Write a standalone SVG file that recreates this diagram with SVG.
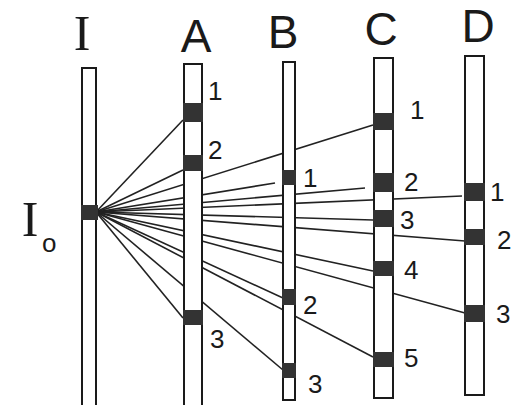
<svg xmlns="http://www.w3.org/2000/svg" width="514" height="405" viewBox="0 0 514 405">
<style>
.col{fill:#fff;stroke:#1a1a1a;stroke-width:2}
.band{fill:#333;stroke:none}
.ln{stroke:#222;stroke-width:1.6;fill:none}
.hd{font-family:"Liberation Sans",Arial,sans-serif;font-size:46px;fill:#1a1a1a;text-anchor:middle}
.hs{font-family:"Liberation Serif","Times New Roman",serif;font-size:50px;fill:#1a1a1a;text-anchor:middle}
.nm{font-family:"Liberation Sans",Arial,sans-serif;font-size:26px;fill:#1a1a1a}
</style>
<rect width="514" height="405" fill="#fff"/>
<g id="connectors">
<line class="ln" x1="96" y1="212" x2="183" y2="120"/>
<line class="ln" x1="96" y1="212" x2="183" y2="170"/>
<line class="ln" x1="96" y1="212" x2="275" y2="183"/>
<line class="ln" x1="96" y1="212" x2="373" y2="125"/>
<line class="ln" x1="96" y1="212" x2="365" y2="188"/>
<line class="ln" x1="96" y1="212" x2="462" y2="196"/>
<line class="ln" x1="96" y1="212" x2="373" y2="220"/>
<line class="ln" x1="96" y1="212" x2="465" y2="241"/>
<line class="ln" x1="96" y1="212" x2="373" y2="271"/>
<line class="ln" x1="96" y1="212" x2="283" y2="298"/>
<line class="ln" x1="96" y1="212" x2="465" y2="313"/>
<line class="ln" x1="96" y1="212" x2="183" y2="318"/>
<line class="ln" x1="96" y1="212" x2="373" y2="357"/>
<line class="ln" x1="96" y1="212" x2="283" y2="370"/>
</g>
<g id="col-I">
<text class="hs" x="82" y="50">I</text>
<rect class="col" x="82" y="68" width="14" height="345"/>
<rect class="band" x="81" y="205" width="17" height="15"/>
<text class="hs" x="30" y="236">I</text>
<text class="nm" x="42" y="252" font-size="28">o</text>
</g>
<g id="col-A">
<text class="hd" x="196" y="52">A</text>
<rect class="col" x="184" y="64" width="18" height="345"/>
<rect class="band" x="183" y="103" width="20" height="19"/>
<rect class="band" x="183" y="155" width="20" height="16"/>
<rect class="band" x="183" y="310" width="20" height="15"/>
<text class="nm" x="208" y="100">1</text>
<text class="nm" x="208" y="159">2</text>
<text class="nm" x="210" y="348">3</text>
</g>
<g id="col-B">
<text class="hd" x="283" y="48">B</text>
<rect class="col" x="283" y="62" width="12" height="338"/>
<rect class="band" x="282" y="170" width="14" height="15"/>
<rect class="band" x="282" y="289" width="14" height="16"/>
<rect class="band" x="282" y="363" width="14" height="15"/>
<text class="nm" x="303" y="187">1</text>
<text class="nm" x="303" y="314">2</text>
<text class="nm" x="308" y="393">3</text>
</g>
<g id="col-C">
<text class="hd" x="381" y="45">C</text>
<rect class="col" x="374" y="58" width="19" height="340"/>
<rect class="band" x="373" y="113" width="21" height="17"/>
<rect class="band" x="373" y="173" width="21" height="19"/>
<rect class="band" x="373" y="210" width="21" height="17"/>
<rect class="band" x="373" y="261" width="21" height="15"/>
<rect class="band" x="373" y="352" width="21" height="15"/>
<text class="nm" x="410" y="119">1</text>
<text class="nm" x="404" y="191">2</text>
<text class="nm" x="400" y="229">3</text>
<text class="nm" x="404" y="279">4</text>
<text class="nm" x="404" y="367">5</text>
</g>
<g id="col-D">
<text class="hd" x="478" y="42">D</text>
<rect class="col" x="465" y="56" width="19" height="339"/>
<rect class="band" x="464" y="183" width="21" height="18"/>
<rect class="band" x="464" y="229" width="21" height="16"/>
<rect class="band" x="464" y="305" width="21" height="17"/>
<text class="nm" x="490" y="201">1</text>
<text class="nm" x="497" y="249">2</text>
<text class="nm" x="496" y="323">3</text>
</g>
</svg>
